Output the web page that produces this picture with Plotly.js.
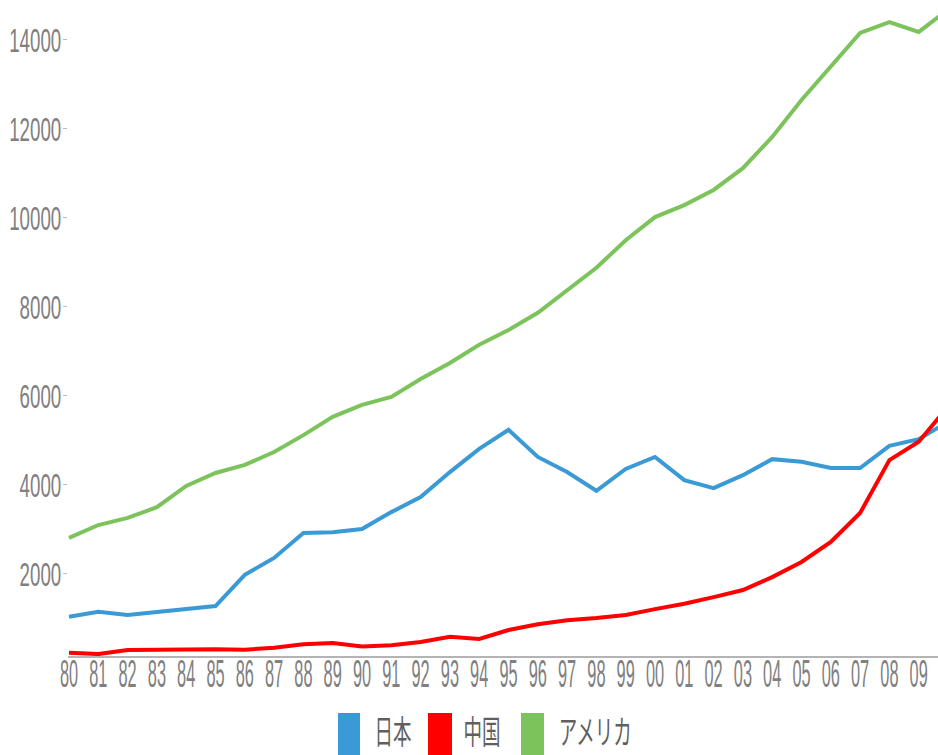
<!DOCTYPE html>
<html>
<head>
<meta charset="utf-8">
<script src="https://cdn.plot.ly/plotly-3.0.1.min.js"></script>
<style>
  html, body { margin: 0; padding: 0; background: #ffffff; }
  #chart { width: 938px; height: 755px; }
</style>
</head>
<body>
<div id="chart"></div>
<script>
// GDP (billions of US dollars), 1980-2010
const years = [1980, 1981, 1982, 1983, 1984, 1985, 1986, 1987, 1988, 1989,
               1990, 1991, 1992, 1993, 1994, 1995, 1996, 1997, 1998, 1999,
               2000, 2001, 2002, 2003, 2004, 2005, 2006, 2007, 2008, 2009, 2010];
const tickYears = years.slice(0, 30);
const tickLabels = ['80', '81', '82', '83', '84', '85', '86', '87', '88', '89',
                    '90', '91', '92', '93', '94', '95', '96', '97', '98', '99',
                    '00', '01', '02', '03', '04', '05', '06', '07', '08', '09'];
const japan = [1040, 1150, 1080, 1150, 1230, 1280, 1980, 2360, 2920, 2940,
               3010, 3390, 3730, 4290, 4810, 5240, 4630, 4290, 3870, 4360,
               4630, 4110, 3930, 4220, 4580, 4520, 4380, 4380, 4880, 5030, 5420];
const china = [230, 200, 290, 300, 310, 310, 300, 340, 420, 450,
               370, 400, 470, 590, 540, 740, 870, 960, 1010, 1080,
               1210, 1330, 1480, 1640, 1930, 2270, 2720, 3370, 4560, 4970, 5760];
const usa = [2810, 3100, 3260, 3500, 3980, 4270, 4450, 4740, 5120, 5530,
             5800, 5980, 6380, 6740, 7150, 7480, 7870, 8380, 8880, 9500,
             10020, 10290, 10630, 11120, 11820, 12650, 13390, 14160, 14400, 14180, 14680];
const yTicks = [2000, 4000, 6000, 8000, 10000, 12000, 14000];

const seriesNames = ['日本', '中国', 'アメリカ'];
const seriesValues = [japan, china, usa];
const seriesColors = ['#3a9ad6', '#ff0000', '#7dc35b'];

const W = 938, H = 755;
const margin = { l: 68, r: 0, t: 0, b: 99 };
const plotW = W - margin.l - margin.r;
const plotH = H - margin.t - margin.b;
const pxPerYear = 29.3;

// pixel -> paper helpers for the hand-placed legend below the axis
const px = x => (x - margin.l) / plotW;
const py = y => (plotH + margin.t - y) / plotH;

const traces = seriesNames.map((name, i) => ({
  type: 'scatter',
  mode: 'lines',
  name: name,
  x: years,
  y: seriesValues[i],
  line: { color: seriesColors[i], width: 4 },
  showlegend: false
}));

// legend swatches and labels
const legendSwatchX = [[338, 360], [428, 452], [521, 544]];
const legendTextX = [393, 482, 595];
const shapes = seriesNames.map((n, i) => ({
  type: 'rect', xref: 'paper', yref: 'paper',
  x0: px(legendSwatchX[i][0]), x1: px(legendSwatchX[i][1]),
  y0: py(713), y1: py(760),
  fillcolor: seriesColors[i], line: { width: 0 }, layer: 'above'
}));
const annotations = seriesNames.map((n, i) => ({
  text: n, xref: 'paper', yref: 'paper',
  x: px(legendTextX[i]), y: py(730),
  xanchor: 'center', yanchor: 'middle', showarrow: false,
  font: { family: 'Noto Sans CJK JP, sans-serif', size: 33, color: '#5f5f5f' }
}));

const layout = {
  width: W, height: H,
  margin: margin,
  paper_bgcolor: '#ffffff',
  plot_bgcolor: '#ffffff',
  showlegend: false,
  xaxis: {
    range: [1980 - 1 / pxPerYear, 1980 - 1 / pxPerYear + plotW / pxPerYear],
    tickmode: 'array', tickvals: tickYears, ticktext: tickLabels,
    tickangle: 0, ticks: '', ticklabeloverflow: 'allow',
    showgrid: false, zeroline: false,
    showline: true, linecolor: '#b4b4b4', linewidth: 2,
    tickfont: { family: 'Liberation Sans, Arial, sans-serif', size: 38, color: '#808080' },
    fixedrange: true
  },
  yaxis: {
    range: [157, 14898],
    tickmode: 'array', tickvals: yTicks, tickformat: 'd',
    ticks: 'outside', ticklen: 4, tickwidth: 1, tickcolor: '#bbbbbb',
    showgrid: false, zeroline: false, showline: false,
    tickfont: { family: 'Liberation Sans, Arial, sans-serif', size: 34, color: '#808080' },
    fixedrange: true
  },
  shapes: shapes,
  annotations: annotations
};

// narrow the lettering horizontally about its anchor point, keeping it as live SVG text
function squeeze(selector, factor, dx, dy) {
  document.querySelectorAll(selector).forEach(el => {
    const ax = parseFloat(el.getAttribute('x')) || 0;
    const prev = el.getAttribute('transform') || '';
    el.setAttribute('transform',
      prev + ' translate(' + (ax + dx) + ',' + dy + ') scale(' + factor + ',1) translate(' + (-ax) + ',0)');
  });
}

Plotly.newPlot('chart', traces, layout, { displayModeBar: false, staticPlot: true }).then(() => {
  squeeze('.xtick text', 0.43, 0, -17);
  squeeze('.ytick text', 0.55, 5, 0);
  squeeze('.annotation-text', 0.56, 0, 0);
});
</script>
</body>
</html>
